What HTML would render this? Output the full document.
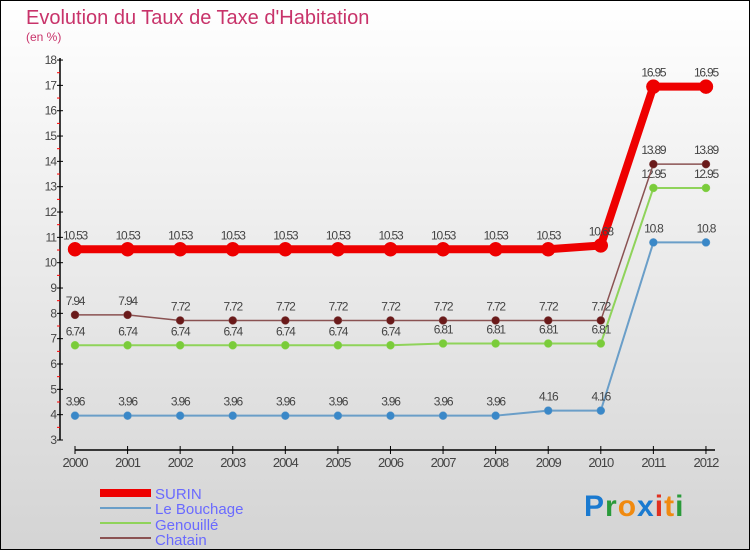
<!DOCTYPE html>
<html><head><meta charset="utf-8"><style>
body{margin:0;}
#c{position:relative;width:750px;height:550px;overflow:hidden;}
svg{display:block;font-family:"Liberation Sans",sans-serif;}
</style></head><body>
<div id="c">
<svg id="s" width="750" height="550" xmlns="http://www.w3.org/2000/svg">
<defs><linearGradient id="bg" x1="0" y1="0" x2="0" y2="1"><stop offset="0" stop-color="#ffffff"/><stop offset="1" stop-color="#d4d4d4"/></linearGradient></defs>
<rect x="0.5" y="0.5" width="749" height="549" fill="url(#bg)" stroke="#000"/>
<text x="26" y="24" font-size="20" fill="#c8336a">Evolution du Taux de Taxe d'Habitation</text>
<text x="26" y="41" font-size="12" fill="#c8336a">(en %)</text>
<g id="axes"></g><g id="series"></g>
<g>
<rect x="100" y="489" width="51" height="8" fill="#e00"/>
<text x="155" y="499" font-size="15" fill="#6a6aff">SURIN</text>
<line x1="100" y1="508" x2="151" y2="508" stroke="#6a9ec8" stroke-width="2"/>
<text x="155" y="514" font-size="15" fill="#6a6aff">Le Bouchage</text>
<line x1="100" y1="523" x2="151" y2="523" stroke="#8fd35a" stroke-width="2"/>
<text x="155" y="530" font-size="15" fill="#6a6aff">Genouillé</text>
<line x1="100" y1="538" x2="151" y2="538" stroke="#8a5252" stroke-width="2"/>
<text x="155" y="545" font-size="15" fill="#6a6aff">Chatain</text>
</g>
<text x="584" y="516" font-size="30" font-weight="bold" letter-spacing="1"><tspan fill="#1a7ad0">P</tspan><tspan fill="#2a9a3a">r</tspan><tspan fill="#f08a10">o</tspan><tspan fill="#1a7ad0">x</tspan><tspan fill="#e03020">i</tspan><tspan fill="#f08a10">t</tspan><tspan fill="#2a9a3a">i</tspan></text>
</svg></div>
<script>
const years=[2000,2001,2002,2003,2004,2005,2006,2007,2008,2009,2010,2011,2012];
const surin=[10.53,10.53,10.53,10.53,10.53,10.53,10.53,10.53,10.53,10.53,10.68,16.95,16.95];
const bouchage=[3.96,3.96,3.96,3.96,3.96,3.96,3.96,3.96,3.96,4.16,4.16,10.8,10.8];
const genouille=[6.74,6.74,6.74,6.74,6.74,6.74,6.74,6.81,6.81,6.81,6.81,12.95,12.95];
const chatain=[7.94,7.94,7.72,7.72,7.72,7.72,7.72,7.72,7.72,7.72,7.72,13.89,13.89];
const yTicks=[3,4,5,6,7,8,9,10,11,12,13,14,15,16,17,18];
const NS="http://www.w3.org/2000/svg";
const X=i=>75+i*52.58;
const Y=v=>440-(v-3)*25.33;
function mk(tag,attrs,parent){const e=document.createElementNS(NS,tag);for(const k in attrs)e.setAttribute(k,attrs[k]);parent.appendChild(e);return e;}
const ax=document.getElementById('axes');
const yl=mk('line',{x1:60,y1:58,x2:60,y2:440,stroke:'#000','stroke-width':1.5},ax);


yTicks.forEach(t=>{
  mk('line',{x1:57,y1:Y(t),x2:63,y2:Y(t),stroke:'#000'},ax);
  if(t<18)mk('line',{x1:57,y1:Y(t+0.5),x2:60,y2:Y(t+0.5),stroke:'#f00'},ax);
  const tx=mk('text',{x:56,y:Y(t)+4,'font-size':12,fill:'#444','text-anchor':'end','letter-spacing':'-1'},ax);
  tx.textContent=t;
  
  
});
const xl=mk('line',{x1:75,y1:450,x2:715,y2:450,stroke:'#000','stroke-width':1.5},ax);


years.forEach((yr,i)=>{
  mk('line',{x1:X(i),y1:446,x2:X(i),y2:454,stroke:'#000'},ax);
  const tx=mk('text',{x:X(i),y:467,'font-size':13,fill:'#444','text-anchor':'middle','letter-spacing':'-1'},ax);
  tx.textContent=yr;
  
  
});
const sg=document.getElementById('series');
function draw(vals,color,w,r,name,dot){
  const g=mk('g',{},sg);
  
  
  mk('polyline',{points:vals.map((v,i)=>X(i)+','+Y(v)).join(' '),fill:'none',stroke:color,'stroke-width':w,'stroke-linejoin':'round'},g);
  vals.forEach((v,i)=>{
    const c=mk('circle',{cx:X(i),cy:Y(v),r:r,fill:dot,stroke:color,'stroke-width':0.5},g);
    
    
    const t=mk('text',{x:X(i),y:Y(v)-10,'font-size':12,fill:'#444','text-anchor':'middle','letter-spacing':'-1.2'},g);
    t.textContent=v;
    
    
  });
}
draw(bouchage,'#6a9ec8',2,4,'le-bouchage','#3a88c8');
draw(genouille,'#8fd35a',2,4,'genouille','#7acc3a');
draw(chatain,'#8a5252',1.5,4,'chatain','#6a1a1a');
draw(surin,'#e00',8,7,'surin','#e00');
</script>
</body></html>
